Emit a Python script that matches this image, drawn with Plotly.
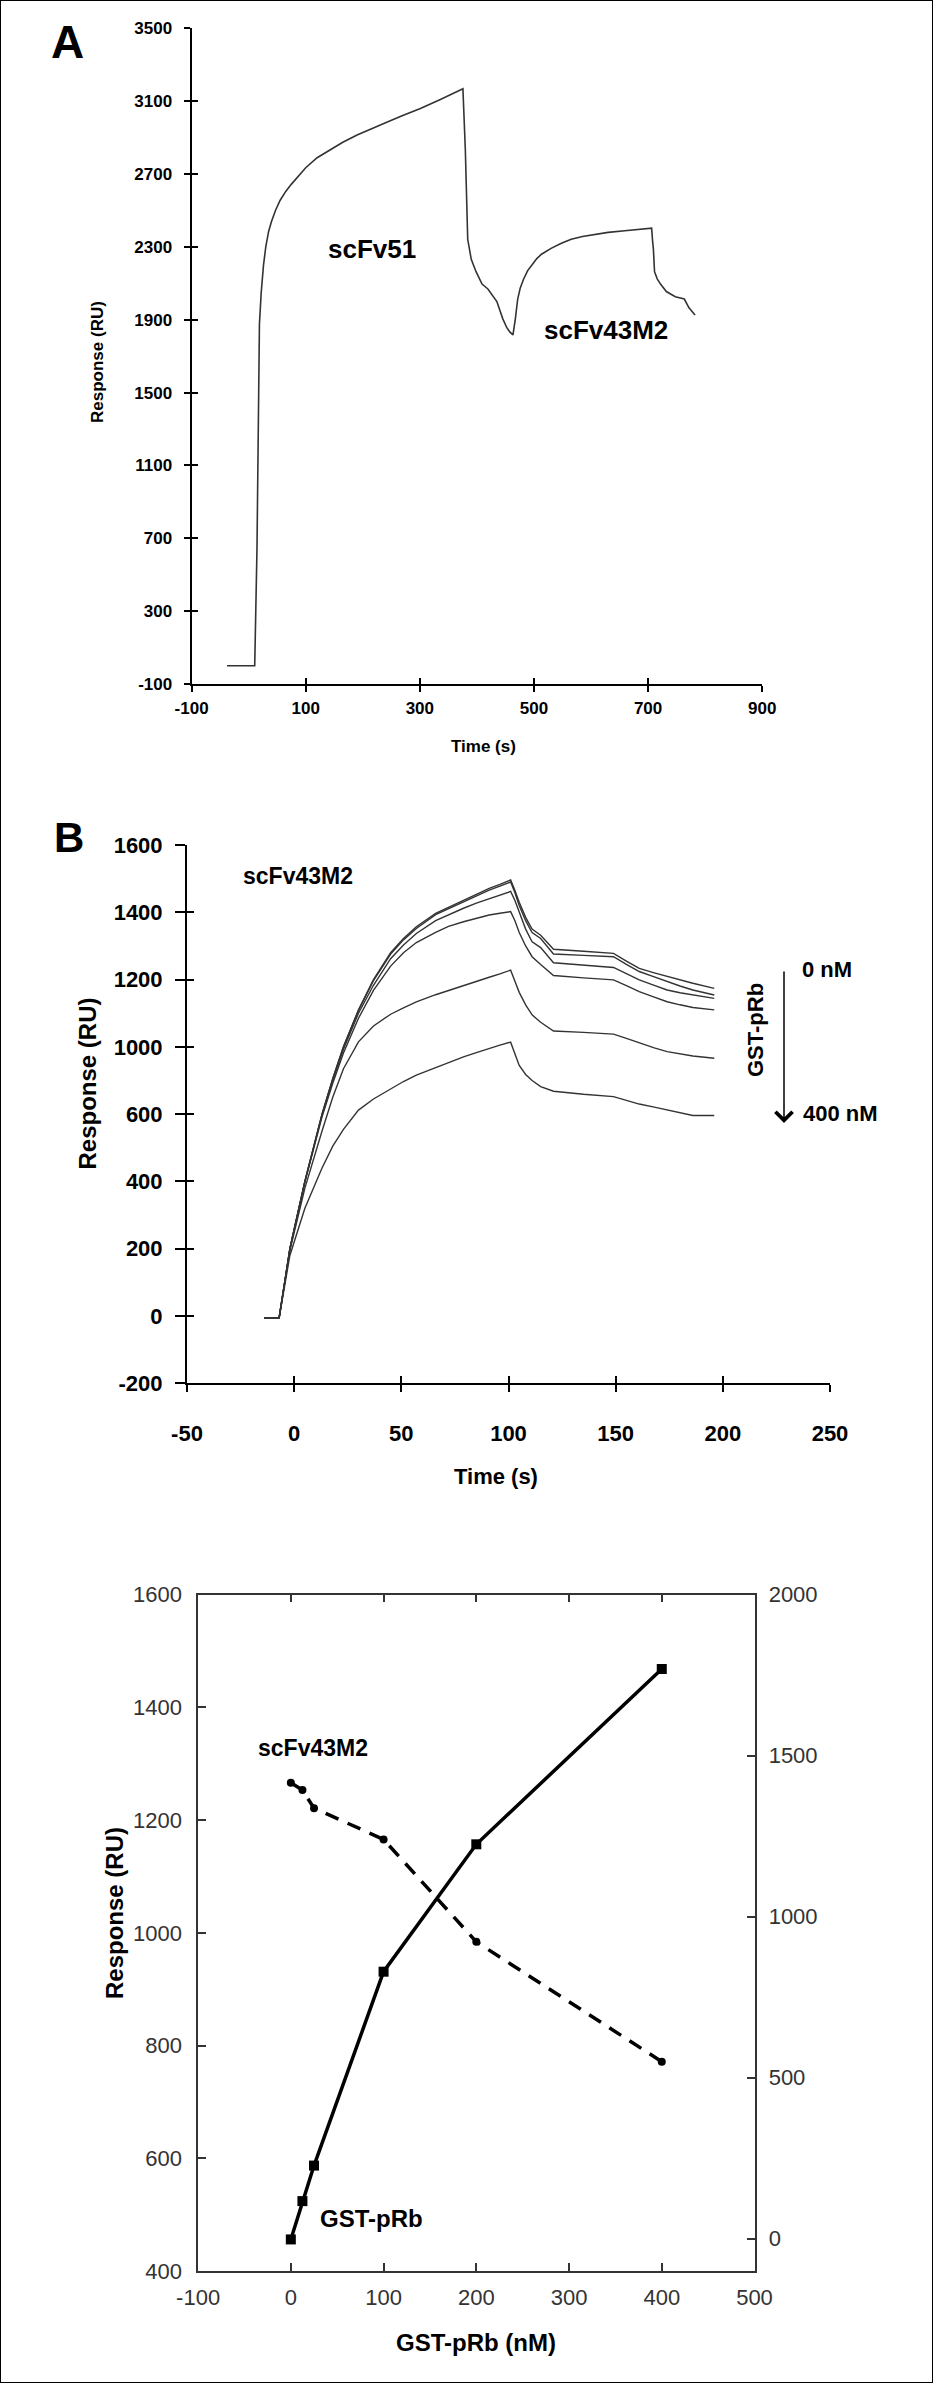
import plotly.graph_objects as go

W, H = 933, 2383

# ---------------- data ----------------
# Panel A: sensorgram (time in s, response in RU)
a_time = [-38, 10.6, 14.6, 18.9, 22, 26, 30, 35, 40, 47, 55, 65, 75, 88, 100, 120, 143, 165, 190, 215, 242, 270, 301, 336, 375.5,
          379.7, 383.9, 390.1, 398.5, 409, 419.3, 435, 445.4, 452.7, 458, 463.2,
          465.5, 467.4, 471.5, 476, 481.9, 489, 497.5, 505, 513.2, 530, 548, 565.3, 585, 607, 630, 659.2, 685, 706.2,
          708, 709.3, 711.3, 716, 721.8, 732, 747.7, 758.2, 763.5, 771.7, 782.3]
a_resp = [0, 0, 646, 1877, 2050, 2200, 2300, 2385, 2440, 2500, 2555, 2605, 2645, 2695, 2735, 2790, 2835, 2875, 2915, 2950, 2985, 3022, 3060, 3110, 3169,
          2836, 2342, 2232, 2164, 2096, 2069, 2000, 1905, 1855, 1832, 1817,
          1860, 1905, 2014, 2075, 2124, 2170, 2205, 2236, 2260, 2292, 2320, 2342, 2357, 2370, 2380, 2389, 2397, 2403,
          2330, 2288, 2164, 2125, 2096, 2055, 2027, 2020, 2014, 1966, 1926]
a_xticks = [-100, 100, 300, 500, 700, 900]
a_xlabels = ["-100", "100", "300", "500", "700", "900"]
a_yticks = [-100, 300, 700, 1100, 1500, 1900, 2300, 2700, 3100, 3500]
a_ylabels = ["-100", "300", "700", "1100", "1500", "1900", "2300", "2700", "3100", "3500"]

# Panel B: six GST-pRb concentrations (0 -> 400 nM); values in axis-grid units
b_time = [-14, -7, -2, 5, 13, 18, 23, 30, 37, 45, 51, 57, 66, 72, 79, 85, 91, 96, 101,
          103, 105, 108, 111, 115, 121, 135, 149, 155, 161, 168, 174, 180, 186, 196]
b_0nM = [-5, -5, 200, 400, 600, 705, 800, 910, 1000, 1080, 1122, 1157, 1197, 1215, 1237, 1255, 1271, 1283, 1296,
         1265, 1230, 1185, 1150, 1132, 1090, 1084, 1078, 1055, 1033, 1020, 1009, 998, 989, 974]
b_12nM = [-5, -5, 200, 400, 600, 705, 800, 908, 997, 1076, 1118, 1152, 1193, 1211, 1232, 1250, 1266, 1278, 1290,
          1258, 1220, 1175, 1140, 1122, 1076, 1072, 1068, 1045, 1024, 1008, 994, 981, 969, 954]
b_25nM = [-5, -5, 200, 400, 598, 700, 793, 900, 983, 1062, 1103, 1137, 1175, 1193, 1212, 1227, 1240, 1251, 1262,
          1235, 1200, 1150, 1112, 1095, 1050, 1043, 1036, 1018, 999, 983, 969, 961, 954, 944]
b_100nM = [-5, -5, 198, 398, 592, 692, 782, 885, 968, 1040, 1080, 1110, 1140, 1158, 1172, 1183, 1192, 1197, 1202,
           1175, 1140, 1100, 1068, 1045, 1012, 1005, 999, 982, 964, 948, 934, 925, 917, 910]
b_200nM = [-5, -5, 195, 380, 550, 650, 735, 815, 862, 897, 916, 934, 955, 968, 982, 995, 1007, 1017, 1028,
           995, 962, 925, 895, 873, 847, 843, 838, 825, 811, 797, 786, 779, 773, 766]
b_400nM = [-5, -5, 180, 320, 440, 505, 555, 612, 645, 676, 697, 716, 739, 754, 770, 783, 796, 805, 814,
           780, 745, 718, 700, 682, 668, 659, 652, 641, 630, 621, 612, 603, 596, 596]
b_xticks = [-50, 0, 50, 100, 150, 200, 250]
b_xlabels = ["-50", "0", "50", "100", "150", "200", "250"]
b_yticks = [-200, 0, 200, 400, 600, 800, 1000, 1200, 1400]
b_ylabels = ["-200", "0", "200", "400", "600", "1000", "1200", "1400", "1600"]

# Panel C: dose response
c_conc = [0, 12.5, 25, 100, 200, 400]
c_gst = [456, 524, 587, 931, 1157, 1468]
c_scfv = [1416, 1393, 1337, 1240, 922, 550]
c_xticks = [-100, 0, 100, 200, 300, 400, 500]
c_xlabels = ["-100", "0", "100", "200", "300", "400", "500"]
c_yticks = [400, 600, 800, 1000, 1200, 1400, 1600]
c_y2ticks = [0, 500, 1000, 1500, 2000]

# ---------------- helpers ----------------
def px(x):
    return x / W

def py(y):
    return 1 - y / H

FONT = "Liberation Sans, Arial, sans-serif"
NARROW = "Liberation Sans Narrow, Arial Narrow, Liberation Sans, sans-serif"
CURVE = "#333333"

fig = go.Figure()

fig.add_trace(go.Scatter(x=a_time, y=a_resp, mode="lines", line=dict(color=CURVE, width=1.6),
                         xaxis="x", yaxis="y", showlegend=False))
for vals in [b_0nM, b_12nM, b_25nM, b_100nM, b_200nM, b_400nM]:
    fig.add_trace(go.Scatter(x=b_time, y=vals, mode="lines", line=dict(color=CURVE, width=1.4),
                             xaxis="x2", yaxis="y2", showlegend=False))
fig.add_trace(go.Scatter(x=c_conc, y=c_gst, mode="lines+markers",
                         line=dict(color="black", width=3.5),
                         marker=dict(symbol="square", size=10, color="black"),
                         xaxis="x3", yaxis="y3", showlegend=False))
fig.add_trace(go.Scatter(x=c_conc, y=c_scfv, mode="lines+markers",
                         line=dict(color="black", width=3.5, dash="14px,10px"),
                         marker=dict(symbol="circle", size=8, color="black"),
                         xaxis="x3", yaxis="y6", showlegend=False))
# empty traces to activate overlay axes (cross ticks)
fig.add_trace(go.Scatter(x=[], y=[], xaxis="x4", yaxis="y", showlegend=False))
fig.add_trace(go.Scatter(x=[], y=[], xaxis="x", yaxis="y4", showlegend=False))
fig.add_trace(go.Scatter(x=[], y=[], xaxis="x5", yaxis="y2", showlegend=False))
fig.add_trace(go.Scatter(x=[], y=[], xaxis="x2", yaxis="y5", showlegend=False))

bold = lambda s: dict(family=FONT, size=s, color="black", weight="bold")

common = dict(showgrid=False, zeroline=False, showline=True, linecolor="black", linewidth=2,
              tickcolor="black", tickwidth=2, ticks="outside", automargin=False)
inner = dict(showline=False, showgrid=False, zeroline=False, ticks="inside", tickwidth=2,
             tickcolor="black", showticklabels=False, automargin=False)

a_x = dict(range=[-100, 900], tickvals=a_xticks, ticktext=a_xlabels)
a_y = dict(range=[-100, 3500], tickvals=a_yticks, ticktext=a_ylabels)
b_x = dict(range=[-50, 250], tickvals=b_xticks, ticktext=b_xlabels)
b_y = dict(range=[-200, 1400], tickvals=b_yticks, ticktext=b_ylabels)
c_tf = dict(family=NARROW, size=22, color="#333")
c_common = dict(showgrid=False, zeroline=False, showline=True, linecolor="#333", linewidth=1.5,
                ticks="inside", ticklen=8, tickwidth=1.5, tickcolor="#333", tickfont=c_tf,
                automargin=False)

fig.update_layout(
    template="none",
    width=W, height=H, autosize=False, margin=dict(l=0, r=0, t=0, b=0, pad=0, autoexpand=False),
    paper_bgcolor="white", plot_bgcolor="white", showlegend=False,
    font=dict(family=FONT, color="black"),
    # Panel A
    xaxis=dict(domain=[px(191.6), px(762.2)], anchor="y", ticklen=6, tickfont=bold(17),
               ticklabelstandoff=2, **a_x, **common),
    yaxis=dict(domain=[py(684), py(28.4)], anchor="x", ticklen=6, tickfont=bold(17),
               ticklabelstandoff=8, **a_y, **common),
    xaxis4=dict(overlaying="x", anchor="y", ticklen=6, **inner, **a_x),
    yaxis4=dict(overlaying="y", anchor="x", ticklen=6, **inner, **a_y),
    # Panel B
    xaxis2=dict(domain=[px(187), px(830)], anchor="y2", ticklen=7, tickfont=bold(22),
                ticklabelstandoff=22, **b_x, **common),
    yaxis2=dict(domain=[py(1383.3), py(845)], anchor="x2", ticklen=10, tickfont=bold(22),
                ticklabelstandoff=8, **b_y, **common),
    xaxis5=dict(overlaying="x2", anchor="y2", ticklen=7, **inner, **b_x),
    yaxis5=dict(overlaying="y2", anchor="x2", ticklen=7, **inner, **b_y),
    # Panel C
    xaxis3=dict(domain=[px(198.1), px(754.5)], anchor="y3", range=[-100, 500],
                tickvals=c_xticks, ticktext=c_xlabels, mirror="ticks",
                ticklabelstandoff=6, **c_common),
    yaxis3=dict(domain=[py(2271), py(1594.6)], anchor="x3", range=[400, 1600], tickvals=c_yticks,
                ticklabelstandoff=10, **c_common),
    yaxis6=dict(overlaying="y3", anchor="x3", side="right", range=[-100, 2000], tickvals=c_y2ticks,
                ticklabelstandoff=8, **c_common),
)

def note(text, x, y, size, angle=0, xanchor="center"):
    fig.add_annotation(text=text, x=px(x), y=py(y), xref="paper", yref="paper",
                       showarrow=False, textangle=angle, xanchor=xanchor, yanchor="middle",
                       font=bold(size))

# Panel A texts
note("A", 67.5, 42, 46)
note("Response (RU)", 98, 362, 17, angle=-90)
note("Time (s)", 483, 746, 17)
note("scFv51", 372, 249, 26)
note("scFv43M2", 606, 330, 26)
# Panel B texts
note("B", 68.5, 838, 42)
note("scFv43M2", 298, 876, 23)
note("Response (RU)", 86.5, 1084, 24, angle=-90)
note("Time (s)", 496, 1476, 22)
note("0 nM", 800, 970, 22, xanchor="left")
note("400 nM", 801, 1113, 22, xanchor="left")
note("GST-pRb", 755, 1030, 22, angle=-90)
fig.add_annotation(text="", x=px(784), y=py(1123), xref="paper", yref="paper",
                   ax=0, ay=-153, showarrow=True, arrowhead=4, arrowsize=2.2,
                   arrowwidth=1.5, arrowcolor="black")
# Panel C texts
note("scFv43M2", 313, 1748, 23)
note("GST-pRb", 371, 2218, 24)
note("Response (RU)", 114, 1913, 24, angle=-90)
note("GST-pRb (nM)", 476, 2342, 24)

# outer frame
fig.add_shape(type="rect", xref="paper", yref="paper", x0=0, y0=0, x1=1, y1=1,
              line=dict(color="black", width=2))

fig.write_html("out.html", config={"displayModeBar": False},
               post_script="document.body.style.margin='0';document.body.style.overflow='hidden';")
